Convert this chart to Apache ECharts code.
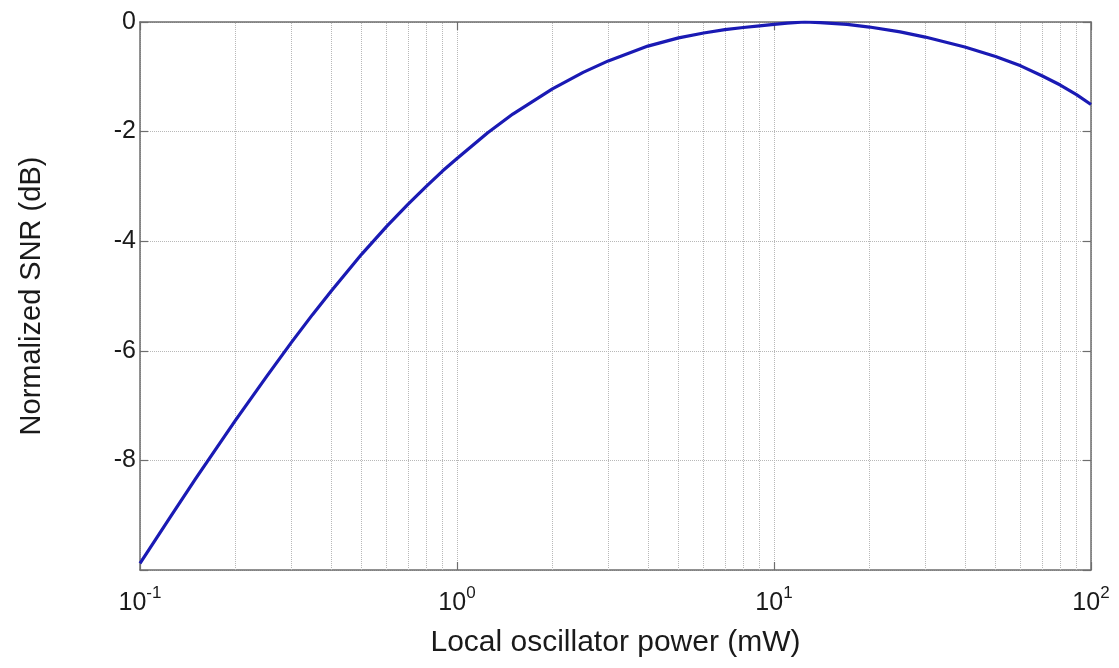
<!DOCTYPE html>
<html>
<head>
<meta charset="utf-8">
<script src="https://cdn.jsdelivr.net/npm/echarts@6/dist/echarts.min.js"></script>
<style>
html,body{margin:0;padding:0;background:#fff;}
#chart{width:1119px;height:668px;}
</style>
</head>
<body>
<div id="chart"></div>
<script>
// Local oscillator power (mW)
const loPower = [0.1, 0.125, 0.15, 0.2, 0.25, 0.3, 0.35, 0.4, 0.5, 0.6, 0.7, 0.8, 0.9, 1.0,
  1.25, 1.5, 2, 2.5, 3, 4, 5, 6, 7, 8, 9, 10, 11, 12.5, 14, 17, 20, 25, 30, 40, 50, 60, 70, 80, 90, 100];
// Normalized SNR (dB)
const snrDb = [-9.88, -9.02, -8.33, -7.27, -6.48, -5.85, -5.34, -4.92, -4.24, -3.73, -3.33, -3.00, -2.72, -2.49,
  -2.02, -1.68, -1.22, -0.92, -0.71, -0.44, -0.29, -0.20, -0.14, -0.10, -0.07, -0.045, -0.02, 0.0, -0.01, -0.044, -0.092, -0.18, -0.275, -0.455, -0.63, -0.80, -0.98, -1.15, -1.325, -1.505];
// minor log grid positions
const minorGrid = [0.2, 0.3, 0.4, 0.5, 0.6, 0.7, 0.8, 0.9, 2, 3, 4, 5, 6, 7, 8, 9, 20, 30, 40, 50, 60, 70, 80, 90];
const xTickExp = {"0.1": "-1", "1": "0", "10": "1", "100": "2"};
const yTickLabels = [0, -2, -4, -6, -8];

const FONT = 'Liberation Sans, Arial, sans-serif';
const chart = echarts.init(document.getElementById('chart'));
const gridColor = '#b8b8b8';
const axisColor = '#6e6e6e';

function xLabel(v) {
  const key = String(Math.round(v * 1000) / 1000);
  const e = xTickExp[key];
  if (e === undefined) return '';
  return '{b|10}{s|' + e + '}';
}

const tickStyle = {show: true, inside: true, length: 8, lineStyle: {color: axisColor, width: 1.2}};
const lineStyleAxis = {show: true, onZero: false, lineStyle: {color: axisColor, width: 1.5}};

chart.setOption({
  animation: false,
  backgroundColor: '#ffffff',
  grid: {left: 140, right: 28, top: 22, bottom: 98},
  xAxis: [{
    type: 'log', logBase: 10, min: 0.1, max: 100, position: 'bottom',
    name: 'Local oscillator power (mW)', nameLocation: 'middle', nameGap: 58,
    nameTextStyle: {fontFamily: FONT, fontSize: 30, color: '#1a1a1a'},
    axisLine: lineStyleAxis,
    axisTick: tickStyle,
    axisLabel: {formatter: xLabel, margin: 10, color: '#1a1a1a',
      rich: {
        b: {fontFamily: FONT, fontSize: 25, color: '#1a1a1a', verticalAlign: 'bottom', lineHeight: 36},
        s: {fontFamily: FONT, fontSize: 17, color: '#1a1a1a', verticalAlign: 'bottom', padding: [0, 0, 14, 0], lineHeight: 36}
      }},
    splitLine: {show: true, lineStyle: {color: gridColor, type: 'dotted', width: 1}},
    minorTick: {show: false}
  }, {
    type: 'log', logBase: 10, min: 0.1, max: 100, position: 'top',
    axisLine: lineStyleAxis,
    axisTick: tickStyle,
    axisLabel: {show: false}, splitLine: {show: false}
  }],
  yAxis: [{
    type: 'value', min: -10, max: 0, interval: 2, position: 'left',
    name: 'Normalized SNR (dB)', nameLocation: 'middle', nameGap: 94, nameRotate: 90,
    nameTextStyle: {fontFamily: FONT, fontSize: 29, color: '#1a1a1a'},
    axisLine: lineStyleAxis,
    axisTick: tickStyle,
    axisLabel: {fontFamily: FONT, fontSize: 25, color: '#1a1a1a', margin: 4,
      formatter: v => (yTickLabels.indexOf(v) >= 0 ? String(v) : '')},
    splitLine: {show: true, lineStyle: {color: gridColor, type: 'dotted', width: 1}}
  }, {
    type: 'value', min: -10, max: 0, interval: 2, position: 'right',
    axisLine: lineStyleAxis,
    axisTick: tickStyle,
    axisLabel: {show: false}, splitLine: {show: false}
  }],
  series: [{
    type: 'line',
    data: loPower.map((x, i) => [x, snrDb[i]]),
    smooth: false,
    showSymbol: false,
    symbol: 'none',
    lineStyle: {color: '#1a1ab4', width: 3.2, join: 'round'},
    z: 5,
    markLine: {
      silent: true, symbol: 'none', animation: false,
      label: {show: false},
      lineStyle: {color: gridColor, type: 'dotted', width: 1},
      data: minorGrid.map(v => ({xAxis: v}))
    }
  }]
});
</script>
</body>
</html>
